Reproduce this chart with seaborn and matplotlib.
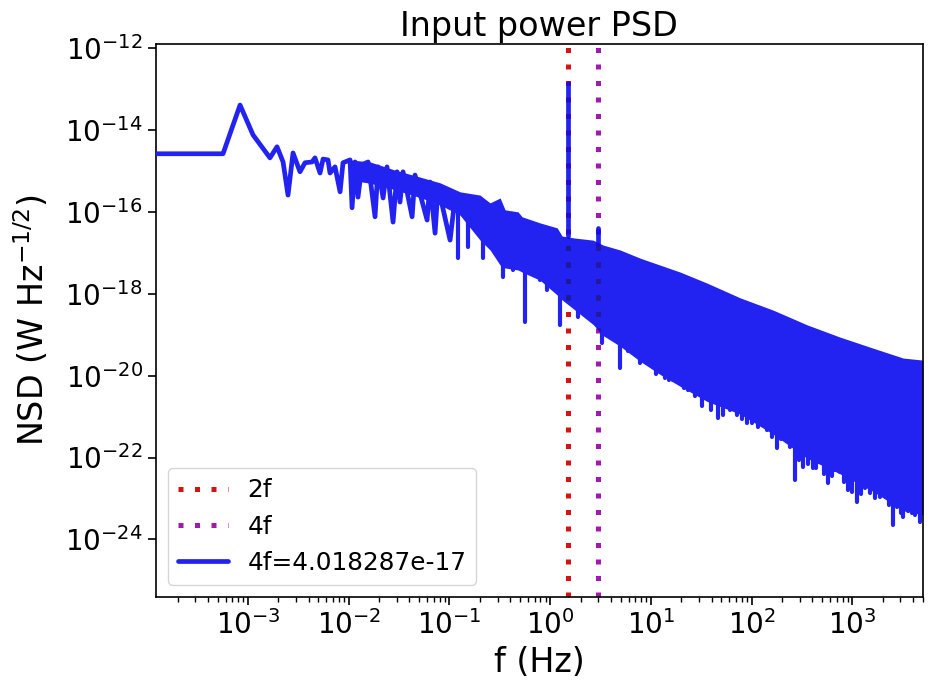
import numpy as np
import pandas as pd
import matplotlib
matplotlib.use("Agg")
import matplotlib.pyplot as plt
import matplotlib.ticker as ticker
import seaborn as sns

# low-frequency part of the spectrum,
# as log10(f / Hz) and log10(NSD)
trace_logf = [
    -3.914, -3.248, -3.079, -2.950, -2.782, -2.712, -2.652, -2.603, -2.553, -2.484,
    -2.434, -2.364, -2.335, -2.285, -2.255, -2.206, -2.186, -2.136, -2.086, -2.057,
    -1.987, -1.967, -1.937, -1.908, -1.868, -1.808, -1.739, -1.709, -1.659, -1.620,
    -1.560, -1.520, -1.491, -1.461, -1.371, -1.342, -1.222, -1.193, -1.143, -1.113,
    -0.994, -0.944,
]
trace_lognsd = [
    -14.58, -14.58, -13.39, -14.12, -14.68, -14.41, -14.78, -15.59, -14.56, -15.02,
    -14.80, -14.78, -14.68, -15.05, -14.71, -14.73, -15.05, -14.90, -15.51, -14.80,
    -14.73, -15.90, -14.78, -15.64, -14.85, -14.78, -16.12, -14.90, -15.66, -14.90,
    -16.25, -15.02, -15.76, -15.02, -16.12, -15.10, -16.20, -15.27, -16.52, -15.39,
    -16.69, -15.64,
]

# dense part of the spectrum: upper and lower edge of the solid band
band_logf = [
    -1.987, -1.788, -1.540, -1.292, -1.093, -0.895, -0.696, -0.597, -0.497, -0.448,
    -0.319, -0.279, -0.100, 0.069, 0.118, 0.247, 0.426, 0.525, 0.694, 0.893,
    1.091, 1.290, 1.558, 1.886, 2.214, 2.551, 2.879, 3.207, 3.504, 3.699,
]
band_hi = [
    -14.73, -14.78, -14.98, -15.15, -15.29, -15.51, -15.59, -15.78, -15.66, -15.95,
    -16.00, -16.12, -16.27, -16.39, -16.59, -16.64, -16.69, -16.81, -16.93, -17.13,
    -17.30, -17.47, -17.74, -18.10, -18.40, -18.76, -19.06, -19.33, -19.57, -19.62,
]
band_lo = [
    -15.22, -15.30, -15.46, -15.65, -15.83, -16.08, -16.69, -16.93, -17.30, -17.37,
    -17.42, -17.47, -17.67, -18.03, -18.15, -18.40, -18.75, -19.02, -19.28, -19.65,
    -19.97, -20.26, -20.63, -20.94, -21.43, -22.02, -22.40, -22.83, -23.30, -23.40,
]

# narrow downward spikes below the band
dip_logf = [
    -0.915, -0.815, -0.666, -0.468, -0.368, -0.249, -0.100, -0.031, 0.098, 0.227,
    0.277, 0.366, 0.516, 0.565, 0.694, 0.774, 0.893, 0.962, 1.022, 1.091,
    1.141, 1.221, 1.290, 1.369, 1.509, 1.667, 1.787, 1.856, 1.955, 2.065,
    2.154, 2.253, 2.333, 2.432, 2.511, 2.611, 2.681, 2.760, 2.829, 2.879,
    2.958, 3.048, 3.127, 3.177, 3.276, 3.326, 3.405, 3.445, 3.504, 3.554,
    3.594, 3.673,
    1.05, 1.18, 1.33, 1.44, 1.60, 1.72, 1.90, 2.00, 2.20, 2.29,
    2.38, 2.47, 2.56, 2.64, 2.72, 2.80, 2.92, 3.00, 3.09, 3.22,
    3.36, 3.48, 3.62,
]
dip_base = [
    -15.7, -15.8, -16.0, -16.3, -16.5, -16.6, -16.8, -16.9, -17.2, -17.3,
    -17.4, -17.5, -17.7, -17.8, -17.9, -18.0, -18.2, -18.3, -18.4, -18.5,
    -18.5, -18.6, -18.7, -18.8, -19.0, -19.2, -19.3, -19.4, -19.5, -19.6,
    -19.7, -19.8, -19.9, -20.1, -20.2, -20.3, -20.4, -20.5, -20.5, -20.6,
    -20.7, -20.8, -20.9, -20.9, -21.0, -21.1, -21.2, -21.2, -21.3, -21.3,
    -21.4, -21.4,
    -18.9, -19.0, -19.2, -19.4, -19.6, -19.7, -19.9, -20.0, -20.3, -20.4,
    -20.5, -20.6, -20.8, -20.9, -21.0, -21.1, -21.2, -21.3, -21.4, -21.5,
    -21.7, -21.8, -21.9,
]
dip_tip = [
    -17.13, -16.86, -17.13, -17.59, -17.42, -18.69, -17.66, -17.91, -18.77, -18.16,
    -18.57, -18.47, -19.20, -18.96, -19.82, -19.40, -19.70, -19.60, -19.79, -19.90,
    -20.06, -20.10, -20.19, -20.35, -20.73, -21.04, -20.85, -20.95, -21.16, -21.26,
    -21.33, -21.77, -21.40, -22.55, -22.24, -22.26, -22.10, -22.63, -22.30, -22.36,
    -22.80, -23.09, -22.75, -22.87, -22.97, -22.95, -23.65, -23.20, -23.45, -23.30,
    -23.36, -23.58,
    -19.95, -20.10, -20.30, -20.50, -20.85, -20.95, -21.05, -21.15, -21.50, -21.55,
    -21.75, -22.05, -22.15, -22.25, -22.40, -22.45, -22.60, -22.85, -22.90, -23.00,
    -23.15, -23.35, -23.40,
]

# upward spikes at 2f and 4f
spike_logf = [0.178, 0.476]
spike_base = [-16.6, -16.85]
spike_tip = [-12.85, -16.396]

f_2f = 1.5
f_4f = 3.0
label_4f = "4f=4.018287e-17"

y_ticks = [1e-12, 1e-14, 1e-16, 1e-18, 1e-20, 1e-22, 1e-24]

plt.style.use("default")
sns.set_style("ticks")
plt.rcParams.update({
    "font.family": ["DejaVu Sans"],
    "text.color": "black",
    "axes.labelcolor": "black",
    "xtick.color": "black",
    "ytick.color": "black",
    "xtick.direction": "out",
    "ytick.direction": "out",
    "axes.edgecolor": "black",
    "axes.linewidth": 1.2,
})

trace = pd.DataFrame({
    "f": 10.0 ** np.array(trace_logf),
    "nsd": 10.0 ** np.array(trace_lognsd),
})

blue = "#0a0af0"       # band, see-through so the dotted lines show
blue_solid = "#2323f1"  # same tone as the band over white, opaque
dotted = (0, (1, 2.3))

fig = plt.figure(figsize=(9.34, 6.85), dpi=100)
ax = fig.add_axes([0.167, 0.128, 0.821, 0.808])
ax.set_xscale("log")
ax.set_yscale("log")

l2 = ax.axvline(f_2f, color="#d41414", linestyle=dotted, linewidth=3.6,
                zorder=1, label="2f")
l4 = ax.axvline(f_4f, color="#a21aab", linestyle=dotted, linewidth=3.6,
                zorder=1, label="4f")

band = ax.fill_between(10.0 ** np.array(band_logf), 10.0 ** np.array(band_lo),
                       10.0 ** np.array(band_hi), color=blue, alpha=0.9,
                       linewidth=0, zorder=2)

# the dotted markers seen through the blue band look dark navy
for fx, c in [(f_2f, "#1c1a96"), (f_4f, "#26189c")]:
    ov = ax.axvline(fx, color=c, linestyle=dotted, linewidth=3.6, zorder=2.5)
    ov.set_clip_path(band.get_paths()[0], ax.transData)

ax.vlines(10.0 ** np.array(dip_logf), 10.0 ** np.array(dip_tip),
          10.0 ** np.array(dip_base), color=blue_solid, linewidth=3.0,
          capstyle="round", zorder=2)
ax.vlines(10.0 ** np.array(spike_logf), 10.0 ** np.array(spike_base),
          10.0 ** np.array(spike_tip), color=blue, alpha=0.9, linewidth=3.4,
          capstyle="round", zorder=2)
sns.lineplot(data=trace, x="f", y="nsd", sort=False, estimator=None, ax=ax,
             color=blue_solid, linewidth=3.4, label=label_4f, zorder=3)
lb = ax.get_lines()[-1]

ax.set_xlim(1.22e-4, 5000)
ax.set_ylim(10 ** -25.415, 10 ** -11.895)
ax.set_yticks(y_ticks)
ax.yaxis.set_minor_locator(ticker.NullLocator())
ax.xaxis.set_major_locator(ticker.LogLocator(base=10, numticks=20))
ax.xaxis.set_minor_locator(ticker.LogLocator(base=10, subs=np.arange(2, 10), numticks=20))
ax.tick_params(axis="both", which="major", labelsize=20, length=6, width=1.2)
ax.tick_params(axis="x", which="minor", length=3.5, width=1)

ax.set_xlabel("f (Hz)", fontsize=24, labelpad=4)
ax.set_ylabel("NSD (W Hz$^{-1/2}$)", fontsize=24, labelpad=10)
ax.set_title("Input power PSD", fontsize=24, pad=6)

ax.legend(handles=[l2, l4, lb], labels=["2f", "4f", label_4f], loc="lower left",
          fontsize=17.8, framealpha=0.8)

fig.savefig("out.png", dpi=100, facecolor="white")
